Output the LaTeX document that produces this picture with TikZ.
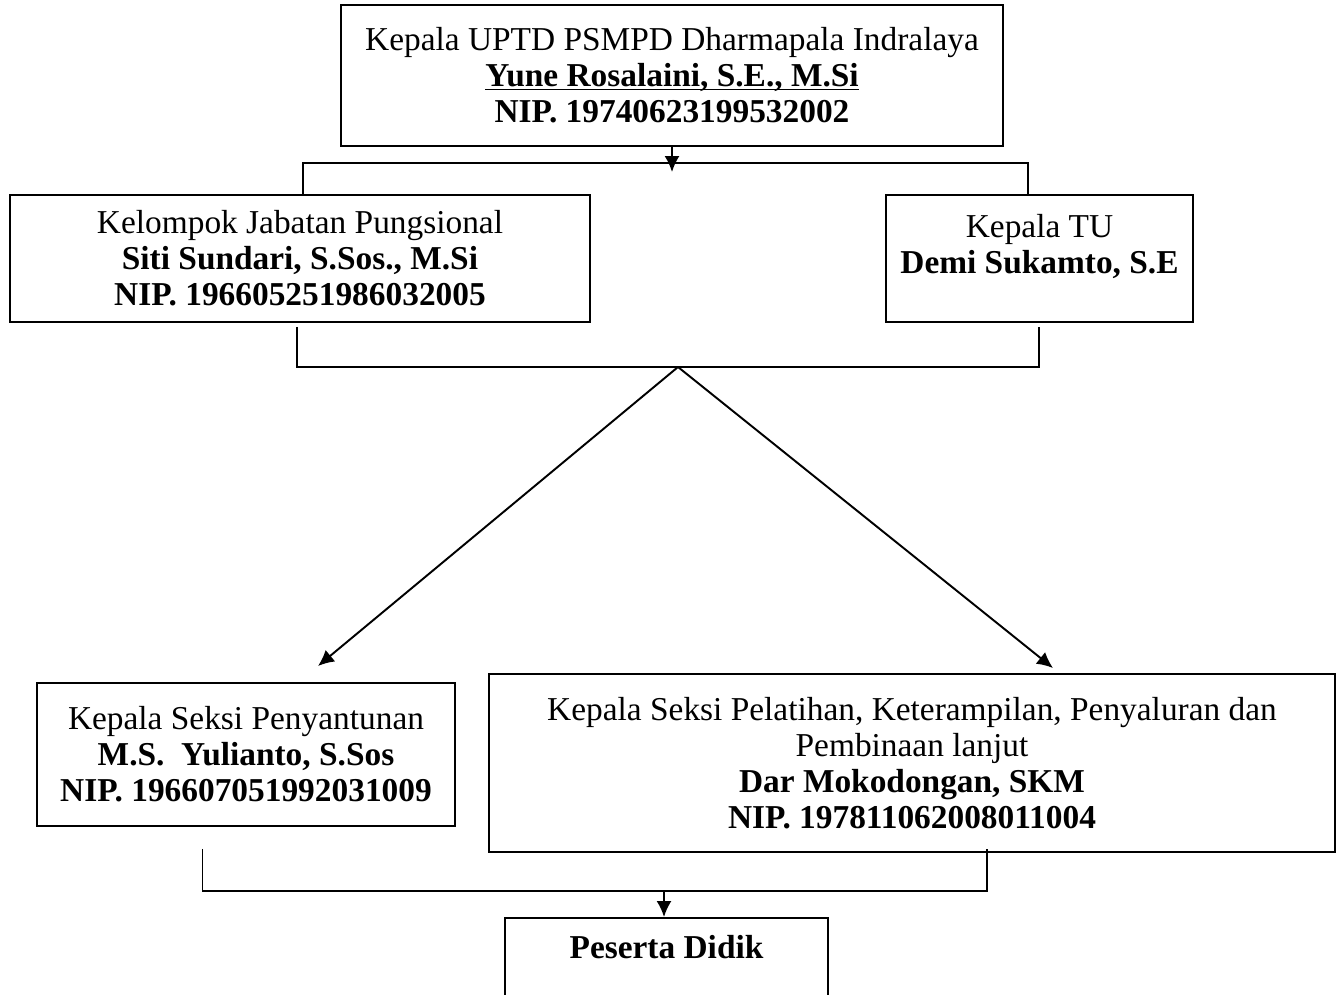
\documentclass[tikz,border=0pt]{standalone}
\usepackage{fontspec}
\setmainfont{Liberation Serif}
\usetikzlibrary{arrows.meta}

\begin{document}
\begin{tikzpicture}[
    x=0.02cm,y=-0.02cm,
    box/.style={draw, line width=1.1pt, align=center, inner sep=0pt,
      font=\fontsize{19}{20.5}\selectfont},
    line/.style={line width=1.1pt},
    arr/.style={line width=1.1pt, -{Latex[length=3.2mm,width=3mm]}}
    ]
    \useasboundingbox (0, 0) rectangle (1341, 994);
    \clip (0, 0) rectangle (1341, 994);
    \node[box, minimum width=13.24cm, minimum height=2.82cm] (kepala) at (672, 75.5)
      {Kepala UPTD PSMPD Dharmapala Indralaya\\ \textbf{\underline{\smash{Yune Rosalaini, S.E., M.Si}}}\\ \textbf{NIP. 19740623199532002}};
    \node[box, minimum width=11.6cm, minimum height=2.54cm] (kjp) at (300, 258.5)
      {Kelompok Jabatan Pungsional\\ \textbf{Siti Sundari, S.Sos., M.Si}\\ \textbf{NIP. 196605251986032005}};
    \node[box, minimum width=6.14cm, minimum height=2.54cm] (tu) at (1039.5, 258.5)
      {Kepala TU\\ \textbf{Demi Sukamto, S.E}\\[-10pt] \strut};
    \node[box, minimum width=8.36cm, minimum height=2.86cm] (santun) at (246, 754.5)
      {Kepala Seksi Penyantunan\\ \textbf{M.S.\ \ Yulianto, S.Sos}\\ \textbf{NIP. 196607051992031009}};
    \node[box, minimum width=16.92cm, minimum height=3.56cm] (latih) at (912, 763)
      {Kepala Seksi Pelatihan, Keterampilan, Penyaluran dan\\ Pembinaan lanjut\\ \textbf{Dar Mokodongan, SKM}\\ \textbf{NIP. 197811062008011004}};
    \node[box, minimum width=6.46cm, minimum height=3cm, anchor=north] (peserta) at (666.5, 917) {};
    \node[font=\fontsize{19}{20.5}\selectfont\bfseries] (pesertalbl) at (666.5, 947) {Peserta Didik};

    \coordinate (b1l) at (303, 163);
    \coordinate (b1r) at (1028, 163);
    \coordinate (b1tip) at (672, 172);
    \coordinate (b2l) at (297, 367);
    \coordinate (b2m) at (678, 367);
    \coordinate (b2r) at (1039, 367);
    \coordinate (tip1) at (318, 666);
    \coordinate (tip2) at (1053, 668);
    \coordinate (b3l) at (202.5, 891);
    \coordinate (b3m) at (664, 891);
    \coordinate (b3r) at (987, 891);

    \draw[arr] (kepala.south) -- (b1tip);
    \draw[line] (kjp.north -| b1l) -- (b1l) -- (b1r) -- (tu.north -| b1r);
    \draw[line] ([yshift=-0.08cm]kjp.south -| b2l) -- (b2l) -- (b2r) -- ([yshift=-0.08cm]tu.south -| b2r);
    \draw[arr] (b2m) -- (tip1);
    \draw[arr] (b2m) -- (tip2);
    \draw[line] ([yshift=-0.44cm]santun.south -| b3l) -- (b3l) -- (b3r) -- ([yshift=0.08cm]latih.south -| b3r);
    \draw[arr] (b3m) -- (peserta.north -| b3m);
  \end{tikzpicture}
\end{document}
